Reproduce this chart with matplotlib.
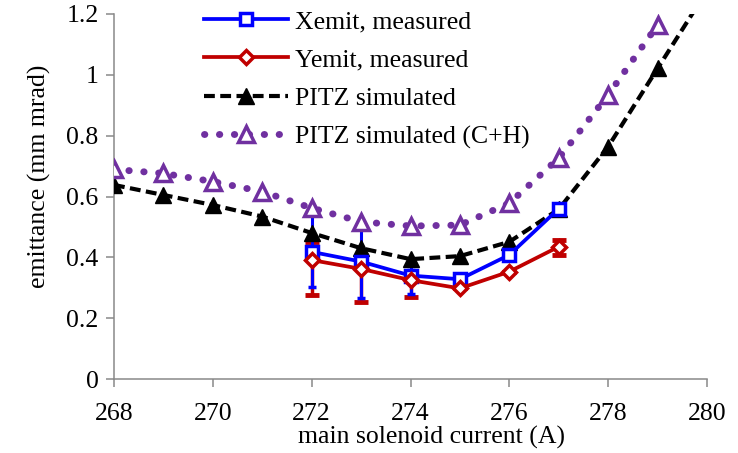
import matplotlib
matplotlib.use("Agg")
import matplotlib.pyplot as plt

plt.rcParams['font.family'] = ['Liberation Serif', 'DejaVu Serif']

# data
current_meas = [272, 273, 274, 275, 276, 277]
xemit = [0.418, 0.386, 0.340, 0.328, 0.408, 0.560]
xemit_err_low = [0.115, 0.12, 0.06, 0.0, 0.0, 0.01]
xemit_err_high = [0.14, 0.127, 0.03, 0.0, 0.0, 0.01]
yemit = [0.391, 0.362, 0.325, 0.298, 0.353, 0.435]
yemit_err_low = [0.115, 0.11, 0.055, 0.0, 0.0, 0.027]
yemit_err_high = [0.06, 0.03, 0.02, 0.0, 0.0, 0.022]

current_sim = [268, 269, 270, 271, 272, 273, 274, 275, 276, 277, 278, 279, 280]
pitz_sim = [0.638, 0.605, 0.572, 0.534, 0.48, 0.43, 0.394, 0.404, 0.451, 0.558, 0.764, 1.021, 1.277]

current_ch = [268, 269, 270, 271, 272, 273, 274, 275, 276, 277, 278, 279]
pitz_ch = [0.689, 0.676, 0.649, 0.616, 0.562, 0.517, 0.503, 0.506, 0.578, 0.726, 0.934, 1.164]

blue = '#0000FF'
red = '#C00000'
purple = '#7030A0'
grey = '#898989'
fs = 18.5

fig = plt.figure(figsize=(7.38, 4.53), dpi=100)
ax = fig.add_axes([114 / 738, 1 - 379 / 453, (707 - 114) / 738, (379 - 14) / 453])

# error bars first so lines sit on top
ax.errorbar(current_meas, yemit, yerr=[yemit_err_low, yemit_err_high], fmt='none',
            ecolor=red, elinewidth=2.5, capsize=5, capthick=3.5, zorder=2)
ax.errorbar(current_meas, xemit, yerr=[xemit_err_low, xemit_err_high], fmt='none',
            ecolor=blue, elinewidth=2.2, capsize=3, capthick=2.5, zorder=2)

ax.plot(current_sim, pitz_sim, color='black', lw=3, linestyle=(0, (2.6, 1.3)),
        marker='^', ms=12, mfc='black', mec='black', label='PITZ simulated', zorder=3)
ax.plot(current_ch, pitz_ch, color=purple, lw=5, linestyle=(0, (0.05, 2.1)),
        dash_capstyle='round', marker='^', ms=11, mfc='white', mec=purple, mew=2.5,
        label='PITZ simulated (C+H)', zorder=3)
ax.plot(current_meas, xemit, '-', color=blue, lw=2.7, marker='s', ms=9,
        mfc='white', mec=blue, mew=2.5, label='Xemit, measured', zorder=4)
ax.plot(current_meas, yemit, '-', color=red, lw=2.7, marker='D', ms=7.5,
        mfc='white', mec=red, mew=2.5, label='Yemit, measured', zorder=4)

ax.set_xlim(268, 280)
ax.set_ylim(0, 1.2)
ax.set_xticks(range(268, 281, 2))
ax.set_yticks([0, 0.2, 0.4, 0.6, 0.8, 1.0, 1.2])
ax.set_yticklabels(['0', '0.2', '0.4', '0.6', '0.8', '1', '1.2'])

for side in ['top', 'right']:
    ax.spines[side].set_visible(False)
for side in ['left', 'bottom']:
    ax.spines[side].set_color(grey)
    ax.spines[side].set_linewidth(1.1)
ax.tick_params(axis='both', direction='out', length=5.5, width=1.1, color=grey,
               labelsize=fs, labelcolor='black')
ax.tick_params(axis='y', pad=5.5)
ax.tick_params(axis='x', pad=12)

ax.set_xlabel('main solenoid current (A)', fontsize=fs, va='top')
ax.xaxis.set_label_coords(0.536, -0.128)
ax.set_ylabel('emittance (mm mrad)', fontsize=fs)
ax.yaxis.set_label_coords(-0.106, 0.556)

handles, labels = ax.get_legend_handles_labels()
order = [2, 3, 0, 1]
ax.legend([handles[i] for i in order], [labels[i] for i in order],
          loc='upper left', bbox_to_anchor=(204 / 738, 1 - 10 / 453),
          bbox_transform=fig.transFigure, frameon=False, fontsize=fs,
          handlelength=3.27, labelspacing=0.6, borderpad=0, borderaxespad=0,
          handletextpad=0.27, numpoints=1)

fig.savefig('out.png', dpi=100)
